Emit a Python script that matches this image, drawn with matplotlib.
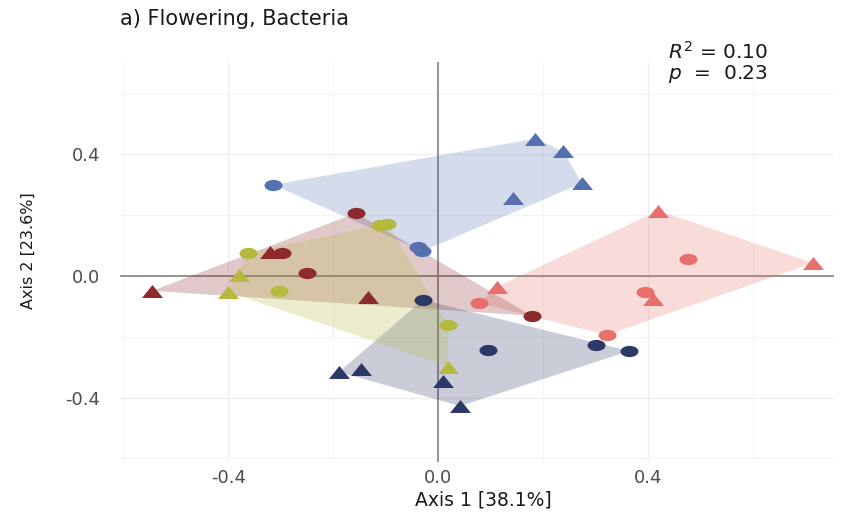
import numpy as np
import matplotlib
matplotlib.use("Agg")
import matplotlib.pyplot as plt
from matplotlib.path import Path
from matplotlib.transforms import Affine2D

plt.rcParams['font.family'] = ['DejaVu Sans']
plt.rcParams['mathtext.fontset'] = 'dejavusans'

# ---- ordination scores per group (Axis 1, Axis 2) ----
steel_circle_x = [-0.314, -0.038, -0.030]
steel_circle_y = [0.300, 0.095, 0.082]
steel_tri_x = [0.185, 0.238, 0.274, 0.143]
steel_tri_y = [0.452, 0.410, 0.305, 0.257]

navy_circle_x = [-0.029, 0.095, 0.300, 0.364]
navy_circle_y = [-0.079, -0.243, -0.227, -0.247]
navy_tri_x = [-0.189, -0.147, 0.010, 0.042]
navy_tri_y = [-0.316, -0.306, -0.345, -0.428]

salmon_circle_x = [0.476, 0.078, 0.394, 0.322]
salmon_circle_y = [0.056, -0.089, -0.053, -0.194]
salmon_tri_x = [0.419, 0.714, 0.112, 0.410]
salmon_tri_y = [0.215, 0.043, -0.036, -0.077]

maroon_circle_x = [-0.156, -0.297, -0.250, 0.179]
maroon_circle_y = [0.207, 0.076, 0.010, -0.131]
maroon_tri_x = [-0.320, -0.545, -0.133]
maroon_tri_y = [0.080, -0.049, -0.069]

olive_circle_x = [-0.110, -0.097, -0.362, -0.303, 0.019]
olive_circle_y = [0.168, 0.171, 0.076, -0.049, -0.161]
olive_tri_x = [-0.379, -0.400, 0.019]
olive_tri_y = [0.003, -0.053, -0.298]

tick_values = [-0.4, 0.0, 0.4]
tick_labels = ["-0.4", "0.0", "0.4"]

groups = [
    ("#5470B0", steel_circle_x, steel_circle_y, steel_tri_x, steel_tri_y),
    ("#2C3865", navy_circle_x, navy_circle_y, navy_tri_x, navy_tri_y),
    ("#E8706C", salmon_circle_x, salmon_circle_y, salmon_tri_x, salmon_tri_y),
    ("#8B2B2E", maroon_circle_x, maroon_circle_y, maroon_tri_x, maroon_tri_y),
    ("#B5B93E", olive_circle_x, olive_circle_y, olive_tri_x, olive_tri_y),
]


def convex_hull(points):
    pts = sorted(set(map(tuple, points)))
    if len(pts) < 3:
        return pts

    def cross(o, a, b):
        return (a[0] - o[0]) * (b[1] - o[1]) - (a[1] - o[1]) * (b[0] - o[0])

    lower, upper = [], []
    for p in pts:
        while len(lower) >= 2 and cross(lower[-2], lower[-1], p) <= 0:
            lower.pop()
        lower.append(p)
    for p in reversed(pts):
        while len(upper) >= 2 and cross(upper[-2], upper[-1], p) <= 0:
            upper.pop()
        upper.append(p)
    return lower[:-1] + upper[:-1]


# wide point glyphs
circle_marker = Path.unit_circle().transformed(Affine2D().scale(1.6, 1.0))
triangle_marker = Path([(-10.5, -6.5), (10.5, -6.5), (0.0, 6.5), (-10.5, -6.5)],
                       [Path.MOVETO, Path.LINETO, Path.LINETO, Path.CLOSEPOLY])

W, H = 844, 514
fig = plt.figure(figsize=(W / 100, H / 100), dpi=100)
fig.patch.set_facecolor("white")


def fpos(x, y):
    return x / W, 1 - y / H


ax = fig.add_axes([120 / W, 1 - 462 / H, (834 - 120) / W, (462 - 62) / H])
ax.set_xlim(-0.606, 0.754)
ax.set_ylim(-0.612, 0.704)

for side in ax.spines.values():
    side.set_visible(False)

ax.set_xticks(tick_values)
ax.set_xticklabels(tick_labels)
ax.set_yticks(tick_values)
ax.set_yticklabels(tick_labels)
ax.set_xticks([-0.6, -0.2, 0.2, 0.6], minor=True)
ax.set_yticks([-0.6, -0.2, 0.2, 0.6], minor=True)
ax.grid(True, which="major", color="#EEEEEE", lw=0.9, zorder=0)
ax.grid(True, which="minor", color="#F4F4F4", lw=0.7, zorder=0)
ax.set_axisbelow(True)
ax.tick_params(which="both", length=0)
ax.tick_params(axis="x", pad=5, labelsize=13, labelcolor="#4D4D4D")
ax.tick_params(axis="y", pad=14, labelsize=13, labelcolor="#4D4D4D")

ax.axhline(0, color="#8C8C8C", lw=1.3, zorder=1)
ax.axvline(0, color="#8C8C8C", lw=1.3, zorder=1)

# group hulls
for color, cx, cy, tx, ty in groups:
    pts = list(zip(cx + tx, cy + ty))
    hull = np.array(convex_hull(pts))
    ax.fill(hull[:, 0], hull[:, 1], color=color, alpha=0.25, lw=0, zorder=2)

# points
for color, cx, cy, tx, ty in groups:
    ax.scatter(cx, cy, s=168, marker=circle_marker, color=color, lw=0, zorder=3)
    ax.scatter(tx, ty, s=228, marker=triangle_marker, color=color, lw=0, zorder=3)

fig.text(*fpos(120, 19), "a) Flowering, Bacteria", fontsize=15, color="#1A1A1A",
         ha="left", va="center")
fig.text(*fpos(718, 63), r"$R^2$ = 0.10" + "\n" + r"$p$  =  0.23", fontsize=14.5,
         color="#1A1A1A", ha="center", va="center", multialignment="center",
         linespacing=1.05)
fig.text(*fpos(483, 500), "Axis 1 [38.1%]", fontsize=13.5, color="#1A1A1A",
         ha="center", va="center")
fig.text(*fpos(28, 251), "Axis 2 [23.6%]", fontsize=11.5, color="#1A1A1A",
         rotation=90, ha="center", va="center")

fig.savefig("out.png", dpi=100, facecolor="white")
